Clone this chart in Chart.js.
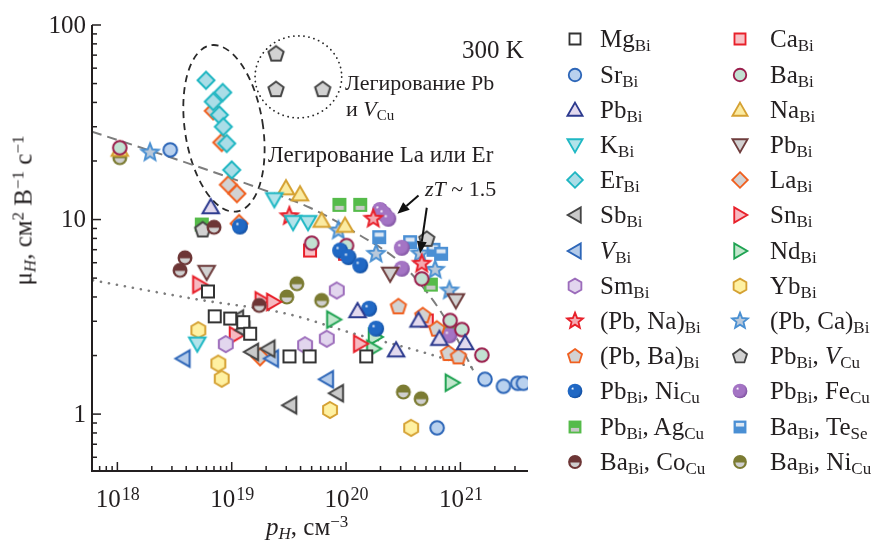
<!DOCTYPE html>
<html>
<head>
<meta charset="utf-8">
<script src="https://cdn.jsdelivr.net/npm/chart.js@4.4.1/dist/chart.umd.min.js"></script>
<style>
  body { margin: 0; background: #fff; }
  #wrap { position: relative; width: 885px; height: 544px; overflow: hidden;
          font-family: "Liberation Serif", "Times New Roman", serif; color: #231f20; }
  #chart { position: absolute; left: 0; top: 0; }
  .t { position: absolute; white-space: nowrap; line-height: 1; }
  .t sub { font-size: 0.68em; vertical-align: -0.26em; line-height: 0; }
  .t sup { font-size: 0.68em; vertical-align: 0.5em; line-height: 0; }
</style>
</head>
<body>
<div id="wrap">
  <canvas id="chart" width="885" height="544"></canvas>
  <div class="t" style="left:462px;top:37px;font-size:25px">300 K</div>
  <div class="t" style="left:345px;top:72px;font-size:22px">Легирование Pb</div>
  <div class="t" style="left:346px;top:98px;font-size:22px">и <i>V</i><sub>Cu</sub></div>
  <div class="t" style="left:268px;top:143px;font-size:23px">Легирование La или Er</div>
  <div class="t" style="left:425px;top:178px;font-size:22px"><i>zT</i> ~ 1.5</div>
  <div class="t" style="left:266px;top:514px;font-size:25px"><i>p</i><sub><i>H</i></sub>, см<sup>−3</sup></div>
  <div class="t" style="left:-127px;top:198px;width:300px;text-align:center;font-size:25px;transform:rotate(-90deg)">μ<sub><i>H</i></sub>, см<sup>2</sup> В<sup>−1</sup> с<sup>−1</sup></div>
</div>
<script>
// hole concentration p_H (cm^-3) and Hall mobility mu_H (cm2 V-1 s-1), per dopant
var mgP = [6.2e18, 7.1e18, 9.7e18, 1.26e19, 1.45e19, 3.2e19, 4.8e19, 1.5e20];
var mgMu = [4.27, 3.18, 3.10, 2.97, 2.59, 1.98, 1.98, 1.98];
var srP = [2.9e18, 6.25e20, 1.64e21, 2.38e21, 3.17e21, 3.56e21];
var srMu = [22.8, 0.85, 1.51, 1.39, 1.44, 1.44];
var pbUpP = [6.55e18, 1.26e20, 2.74e20, 4.3e20, 6.55e20, 1.1e21];
var pbUpMu = [11.6, 3.39, 2.13, 3.03, 2.44, 2.32];
var kP = [5.0e18, 2.36e19, 3.44e19, 4.65e19];
var kMu = [2.30, 12.7, 9.69, 9.69];
var erP = [5.96e18, 8.34e18, 6.9e18, 7.79e18, 8.45e18, 9.04e18, 1.0e19];
var erMu = [52.0, 45.0, 40.4, 34.5, 30.0, 24.6, 18.0];
var sbP = [1.11e19, 1.26e19, 1.5e19, 2.09e19, 3.24e19, 8.3e19];
var sbMu = [3.10, 2.70, 2.09, 2.17, 1.11, 1.28];
var vP = [3.78e18, 2.24e19, 6.78e19];
var vMu = [1.93, 1.93, 1.51];
var smP = [8.87e18, 4.38e19, 6.78e19, 8.3e19];
var smMu = [2.29, 2.26, 2.44, 4.32];
var pbNaP = [3.19e19, 1.73e20, 4.59e20];
var pbNaMu = [10.4, 10.1, 5.93];
var pbBaP = [2.87e20, 4.69e20, 6.22e20, 7.85e20, 9.61e20];
var pbBaMu = [3.58, 3.22, 2.75, 2.06, 1.98];
var pbNiP = [1.18e19, 8.87e19, 1.05e20, 1.33e20, 1.59e20, 1.83e20];
var pbNiMu = [9.21, 6.93, 6.41, 5.81, 3.48, 2.75];
var pbAgP = [5.47e18, 8.74e19, 1.33e20, 5.51e20, 8.13e20];
var pbAgMu = [9.43, 11.9, 11.9, 4.63, 2.75];
var baCoP = [7.0e18, 3.9e18, 3.53e18, 1.74e19];
var baCoMu = [9.13, 6.36, 5.48, 3.62];
var caP = [4.84e19, 9.79e19, 5.08e20];
var caMu = [6.93, 6.67, 3.03];
var baP = [1.05e18, 5.01e19, 1.01e20, 4.59e20, 8.13e20, 1.03e21, 1.54e21];
var baMu = [23.4, 7.56, 7.35, 4.96, 3.03, 2.72, 2.01];
var naP = [1.05e18, 2.98e19, 3.96e19, 6.12e19, 9.79e19];
var naMu = [22.9, 14.5, 13.5, 9.88, 9.31];
var pbDnP = [6.04e18, 2.43e20, 9.12e20];
var pbDnMu = [5.37, 5.26, 3.84];
var laP = [6.9e18, 8.18e18, 9.34e18, 1.11e19, 1.16e19, 1.77e19];
var laMu = [36.2, 24.9, 15.1, 13.6, 9.54, 1.97];
var snP = [5.21e18, 1.83e19, 2.31e19, 1.09e19, 1.33e20];
var snMu = [4.63, 3.84, 3.77, 2.54, 2.30];
var ndP = [7.74e19, 1.79e20, 1.73e20, 8.42e20];
var ndMu = [3.06, 2.49, 2.17, 1.45];
var ybP = [5.11e18, 7.64e18, 8.18e18, 7.24e19, 3.71e20];
var ybMu = [2.70, 1.82, 1.52, 1.05, 0.85];
var pbCaP = [1.93e18, 8.57e19, 1.83e20, 4.44e20, 6.01e20, 8.01e20];
var pbCaMu = [22.1, 8.78, 6.67, 6.69, 5.52, 4.32];
var pbVP = [2.44e19, 2.44e19, 6.25e19, 5.58e18, 5.08e20];
var pbVMu = [71.3, 46.8, 46.8, 8.89, 7.96];
var pbFeP = [1.98e20, 2.15e20, 2.34e20, 3.07e20, 3.07e20, 8.01e20];
var pbFeMu = [11.2, 10.7, 10.1, 7.16, 5.59, 2.54];
var baTeP = [1.95e20, 3.63e20, 5.81e20, 6.78e20];
var baTeMu = [8.12, 7.65, 6.99, 6.67];
var baNiP = [1.05e18, 3.03e19, 3.71e19, 6.12e19, 3.17e20, 4.53e20];
var baNiMu = [20.8, 4.00, 4.68, 3.84, 1.30, 1.20];

// the two guide curves
var dashP = [6.0e17, 3.53e18, 1.84e19, 4.84e19, 1.33e20, 2.97e20, 5.77e20, 8.99e20, 1.29e21];
var dashMu = [28.3, 20.1, 14.3, 11.5, 8.28, 6.02, 3.84, 2.54, 1.68];
var dotP = [6.12e17, 4.94e18, 3.03e19, 1.15e20, 4.72e20, 1.26e21];
var dotMu = [4.87, 3.89, 3.28, 2.60, 2.08, 1.74];

var xExponents = [18, 19, 20, 21];
var yTickValues = [1, 10, 100];

var X_MIN = 6.0e17, X_MAX = 3.9e21, Y_MIN = 0.51, Y_MAX = 100;

var series = [
  { label: 'Mg<sub>Bi</sub>', p: mgP, mu: mgMu, shape: 'square', stroke: '#333', fill: '#fff' },
  { label: 'Sr<sub>Bi</sub>', p: srP, mu: srMu, shape: 'circle', stroke: '#2d66b8', fill: '#b9d1ee' },
  { label: 'Pb<sub>Bi</sub>', p: pbUpP, mu: pbUpMu, shape: 'triUp', stroke: '#2c3a8e', fill: '#e2d9ee' },
  { label: 'K<sub>Bi</sub>', p: kP, mu: kMu, shape: 'triDown', stroke: '#1fb8c4', fill: '#b2e3ea' },
  { label: 'Er<sub>Bi</sub>', p: erP, mu: erMu, shape: 'diamond', stroke: '#1fb6c2', fill: '#aadde7' },
  { label: 'Sb<sub>Bi</sub>', p: sbP, mu: sbMu, shape: 'triLeft', stroke: '#444', fill: '#cacaca' },
  { label: '<i>V</i><sub>Bi</sub>', p: vP, mu: vMu, shape: 'triLeft', stroke: '#2d66b8', fill: '#b4cbea' },
  { label: 'Sm<sub>Bi</sub>', p: smP, mu: smMu, shape: 'hexagon', stroke: '#9c6cbb', fill: '#e2d6ee' },
  { label: '(Pb, Na)<sub>Bi</sub>', p: pbNaP, mu: pbNaMu, shape: 'star', stroke: '#e8202a', fill: '#f5a9b1' },
  { label: '(Pb, Ba)<sub>Bi</sub>', p: pbBaP, mu: pbBaMu, shape: 'pentagon', stroke: '#f06020', fill: '#d2d2d2' },
  { label: 'Pb<sub>Bi</sub>, Ni<sub>Cu</sub>', p: pbNiP, mu: pbNiMu, shape: 'ball', stroke: '#0f4a9c', fill: '#2068c4' },
  { label: 'Pb<sub>Bi</sub>, Ag<sub>Cu</sub>', p: pbAgP, mu: pbAgMu, shape: 'bandLow', stroke: '#55bb4a', fill: '#c8c8c8', order: 1 },
  { label: 'Ba<sub>Bi</sub>, Co<sub>Cu</sub>', p: baCoP, mu: baCoMu, shape: 'half', stroke: '#6d3636', fill: '#cfcfcf' },
  { label: 'Ca<sub>Bi</sub>', p: caP, mu: caMu, shape: 'square', stroke: '#e8202a', fill: '#f7c2c6', order: 1 },
  { label: 'Ba<sub>Bi</sub>', p: baP, mu: baMu, shape: 'circle', stroke: '#9a1e4c', fill: '#c2e1d2' },
  { label: 'Na<sub>Bi</sub>', p: naP, mu: naMu, shape: 'triUp', stroke: '#d5a132', fill: '#fbeba2' },
  { label: 'Pb<sub>Bi</sub>', p: pbDnP, mu: pbDnMu, shape: 'triDown', stroke: '#6e3c3c', fill: '#d2d2d2' },
  { label: 'La<sub>Bi</sub>', p: laP, mu: laMu, shape: 'diamond', stroke: '#f06020', fill: '#d2d2d2' },
  { label: 'Sn<sub>Bi</sub>', p: snP, mu: snMu, shape: 'triRight', stroke: '#e8202a', fill: '#f6b9c1' },
  { label: 'Nd<sub>Bi</sub>', p: ndP, mu: ndMu, shape: 'triRight', stroke: '#1fa352', fill: '#c2e7cd' },
  { label: 'Yb<sub>Bi</sub>', p: ybP, mu: ybMu, shape: 'hexagon', stroke: '#d5a132', fill: '#fff1a2' },
  { label: '(Pb, Ca)<sub>Bi</sub>', p: pbCaP, mu: pbCaMu, shape: 'star', stroke: '#4a90d2', fill: '#bac9da' },
  { label: 'Pb<sub>Bi</sub>, <i>V</i><sub>Cu</sub>', p: pbVP, mu: pbVMu, shape: 'pentagon', stroke: '#444', fill: '#d2d2d2' },
  { label: 'Pb<sub>Bi</sub>, Fe<sub>Cu</sub>', p: pbFeP, mu: pbFeMu, shape: 'ball', stroke: '#7a4c9c', fill: '#a474c4' },
  { label: 'Ba<sub>Bi</sub>, Te<sub>Se</sub>', p: baTeP, mu: baTeMu, shape: 'bandHigh', stroke: '#4a8fd4', fill: '#dde8f3' },
  { label: 'Ba<sub>Bi</sub>, Ni<sub>Cu</sub>', p: baNiP, mu: baNiMu, shape: 'half', stroke: '#7b7b32', fill: '#cfcfcf' }
];

function makeMarker(shape, stroke, fill, k) {
  var n = Math.ceil(26 * k);
  var c = document.createElement('canvas');
  c.width = n; c.height = n;
  var g = c.getContext('2d');
  g.translate(n / 2, n / 2);
  g.scale(k, k);
  g.lineWidth = 2; g.strokeStyle = stroke; g.fillStyle = fill;
  function poly(pts) {
    g.beginPath();
    pts.forEach(function (p, i) { if (i) g.lineTo(p[0], p[1]); else g.moveTo(p[0], p[1]); });
    g.closePath(); g.fill(); g.stroke();
  }
  function reg(nv, r, a0) {
    var pts = [];
    for (var i = 0; i < nv; i++) {
      var a = a0 + i * 2 * Math.PI / nv;
      pts.push([r * Math.cos(a), r * Math.sin(a)]);
    }
    return pts;
  }
  var up = -Math.PI / 2, i, pts;
  switch (shape) {
    case 'square': poly([[-6, -6], [6, -6], [6, 6], [-6, 6]]); break;
    case 'circle': g.beginPath(); g.arc(0, 0, 6.8, 0, 2 * Math.PI); g.fill(); g.stroke(); break;
    case 'triUp': g.translate(0, 1.5); poly(reg(3, 9.5, up)); break;
    case 'triDown': g.translate(0, -1.5); poly(reg(3, 9.5, Math.PI / 2)); break;
    case 'triLeft': g.translate(1.5, 0); poly(reg(3, 9.5, Math.PI)); break;
    case 'triRight': g.translate(-1.5, 0); poly(reg(3, 9.5, 0)); break;
    case 'diamond': poly(reg(4, 8.5, up)); break;
    case 'hexagon': poly(reg(6, 8, up)); break;
    case 'pentagon': g.translate(0, 0.5); poly(reg(5, 8, up)); break;
    case 'star':
      pts = [];
      for (i = 0; i < 10; i++) {
        var r = i % 2 ? 4 : 9, a = up + i * Math.PI / 5;
        pts.push([r * Math.cos(a), r * Math.sin(a)]);
      }
      poly(pts); break;
    case 'ball':
      var grad = g.createRadialGradient(-2.8, -2.8, 0, -1, -1, 9.5);
      grad.addColorStop(0, '#ffffff');
      grad.addColorStop(0.2, fill);
      grad.addColorStop(0.7, fill);
      grad.addColorStop(1, stroke);
      g.fillStyle = grad;
      g.beginPath(); g.arc(0, 0, 8, 0, 2 * Math.PI); g.fill(); break;
    case 'half':
      g.fillStyle = stroke;
      g.beginPath(); g.arc(0, 0, 7.5, 0, 2 * Math.PI); g.fill();
      g.fillStyle = fill;
      g.beginPath(); g.arc(0, 0.5, 5, 0, Math.PI); g.closePath(); g.fill(); break;
    case 'bandLow':
      g.fillStyle = stroke; g.fillRect(-7, -7, 14, 14);
      g.fillStyle = fill; g.fillRect(-4.5, 1, 9, 4); break;
    case 'bandHigh':
      g.fillStyle = stroke; g.fillRect(-7, -7, 14, 14);
      g.fillStyle = fill; g.fillRect(-4.5, -4.5, 9, 4); break;
  }
  return c;
}

function toPoints(xs, ys) {
  return xs.map(function (x, i) { return { x: x, y: ys[i] }; });
}

var datasets = series.map(function (s) {
  return {
    label: s.label.replace(/<[^>]+>/g, ''),
    data: toPoints(s.p, s.mu),
    pointStyle: makeMarker(s.shape, s.stroke, s.fill, 1),
    pointRadius: 7,
    order: s.order || 0
  };
});
datasets.push({
  label: 'model', data: toPoints(dashP, dashMu), showLine: true, pointRadius: 0,
  borderColor: '#7d7d7d', borderWidth: 2, borderDash: [10, 6], cubicInterpolationMode: 'monotone', order: 10
});
datasets.push({
  label: 'fit', data: toPoints(dotP, dotMu), showLine: true, pointRadius: 0,
  borderColor: '#7d7d7d', borderWidth: 2.6, borderDash: [0.1, 8], borderCapStyle: 'round',
  cubicInterpolationMode: 'monotone', order: 10
});

// annotation geometry in data units
var dotRing = { left: 1.6e19, right: 9.16e19, top: 87.9, bottom: 33.3 };
var dashRing = { top: [6.59e18, 78.7], bottom: [1.11e19, 11.0], halfWidth: 39 };
var arrows = [
  [[4.3e20, 13.3], [2.81e20, 10.7]],
  [[5.08e20, 11.5], [4.44e20, 6.7]]
];

var FONT = '"Liberation Serif", "Times New Roman", serif';

var overlay = {
  id: 'overlay',
  beforeDatasetsDraw: function (chart) {
    var ctx = chart.ctx, xs = chart.scales.x, ys = chart.scales.y;
    ctx.save();
    ctx.strokeStyle = '#2a2a2a';
    ctx.lineWidth = 1.8;
    ctx.lineCap = 'round';
    ctx.setLineDash([0.1, 5]);
    var l = xs.getPixelForValue(dotRing.left), r = xs.getPixelForValue(dotRing.right);
    var t = ys.getPixelForValue(dotRing.top), b = ys.getPixelForValue(dotRing.bottom);
    ctx.beginPath();
    ctx.ellipse((l + r) / 2, (t + b) / 2, (r - l) / 2, (b - t) / 2, 0, 0, 2 * Math.PI);
    ctx.stroke();
    var x1 = xs.getPixelForValue(dashRing.top[0]), y1 = ys.getPixelForValue(dashRing.top[1]);
    var x2 = xs.getPixelForValue(dashRing.bottom[0]), y2 = ys.getPixelForValue(dashRing.bottom[1]);
    var half = Math.hypot(x2 - x1, y2 - y1) / 2;
    var rot = Math.atan2(-(x2 - x1), y2 - y1);
    ctx.lineCap = 'butt';
    ctx.setLineDash([7, 5]);
    ctx.beginPath();
    ctx.ellipse((x1 + x2) / 2, (y1 + y2) / 2, dashRing.halfWidth, half, rot, 0, 2 * Math.PI);
    ctx.stroke();
    ctx.restore();
  },
  afterDatasetsDraw: function (chart) {
    var ctx = chart.ctx, a = chart.chartArea, xs = chart.scales.x, ys = chart.scales.y;
    ctx.save();
    // arrows
    ctx.strokeStyle = '#111'; ctx.fillStyle = '#111'; ctx.lineWidth = 2;
    arrows.forEach(function (ar) {
      var sx = xs.getPixelForValue(ar[0][0]), sy = ys.getPixelForValue(ar[0][1]);
      var ex = xs.getPixelForValue(ar[1][0]), ey = ys.getPixelForValue(ar[1][1]);
      var ang = Math.atan2(ey - sy, ex - sx), L = 12, W = 5;
      var bx = ex - L * Math.cos(ang), by = ey - L * Math.sin(ang);
      ctx.beginPath(); ctx.moveTo(sx, sy); ctx.lineTo(bx, by); ctx.stroke();
      ctx.beginPath();
      ctx.moveTo(ex, ey);
      ctx.lineTo(bx + W * Math.sin(ang), by - W * Math.cos(ang));
      ctx.lineTo(bx - W * Math.sin(ang), by + W * Math.cos(ang));
      ctx.closePath(); ctx.fill();
    });
    // axes
    ctx.strokeStyle = '#231f20';
    ctx.lineWidth = 2;
    ctx.beginPath();
    ctx.moveTo(a.left, a.top); ctx.lineTo(a.left, a.bottom); ctx.lineTo(a.right, a.bottom);
    ctx.stroke();
    ctx.lineWidth = 1.5;
    var e, m, v, p;
    for (e = 17; e <= 21; e++) {
      for (m = 1; m < 10; m++) {
        v = m * Math.pow(10, e);
        if (v < X_MIN || v > X_MAX) continue;
        p = xs.getPixelForValue(v);
        ctx.beginPath(); ctx.moveTo(p, a.bottom); ctx.lineTo(p, a.bottom - (m === 1 ? 9 : 5)); ctx.stroke();
      }
    }
    for (e = -1; e <= 2; e++) {
      for (m = 1; m < 10; m++) {
        v = m * Math.pow(10, e);
        if (v < Y_MIN || v > Y_MAX * 1.001) continue;
        p = ys.getPixelForValue(v);
        ctx.beginPath(); ctx.moveTo(a.left, p); ctx.lineTo(a.left + (m === 1 ? 9 : 5), p); ctx.stroke();
      }
    }
    // tick labels
    ctx.fillStyle = '#231f20';
    ctx.font = '25px ' + FONT;
    ctx.textAlign = 'right'; ctx.textBaseline = 'middle';
    yTickValues.forEach(function (tv) {
      ctx.fillText(String(tv), a.left - 6, ys.getPixelForValue(tv) + 1);
    });
    ctx.textAlign = 'left'; ctx.textBaseline = 'alphabetic';
    xExponents.forEach(function (ex) {
      var px = xs.getPixelForValue(Math.pow(10, ex));
      ctx.font = '25px ' + FONT;
      var w1 = ctx.measureText('10').width;
      ctx.font = '18px ' + FONT;
      var w2 = ctx.measureText(String(ex)).width;
      var x0 = px - (w1 + w2) / 2;
      ctx.font = '25px ' + FONT;
      ctx.fillText('10', x0, a.bottom + 36);
      ctx.font = '18px ' + FONT;
      ctx.fillText(String(ex), x0 + w1 + 1, a.bottom + 29);
    });
    ctx.restore();
  }
};

new Chart(document.getElementById('chart'), {
  type: 'scatter',
  data: { datasets: datasets },
  options: {
    responsive: false,
    animation: false,
    layout: { padding: { left: 92, top: 25, right: 357, bottom: 73 } },
    scales: {
      x: { type: 'logarithmic', display: false, min: X_MIN, max: X_MAX },
      y: { type: 'logarithmic', display: false, min: Y_MIN, max: Y_MAX }
    },
    plugins: { legend: { display: false }, tooltip: { enabled: false } }
  },
  plugins: [overlay]
});

// legend, two columns
var wrap = document.getElementById('wrap');
series.forEach(function (s, i) {
  var row = i % 13, col = Math.floor(i / 13);
  var cy = 39.3 + 35.2 * row;
  var mx = col ? 740 : 575, tx = col ? 770 : 600;
  var mk = makeMarker(s.shape, s.stroke, s.fill, 0.92);
  mk.style.position = 'absolute';
  mk.style.left = (mx - mk.width / 2) + 'px';
  mk.style.top = (cy - mk.height / 2) + 'px';
  wrap.appendChild(mk);
  var d = document.createElement('div');
  d.className = 't';
  d.style.left = tx + 'px';
  d.style.top = (cy - 12.9) + 'px';
  d.style.fontSize = '25px';
  d.innerHTML = s.label;
  wrap.appendChild(d);
});
</script>
</body>
</html>
